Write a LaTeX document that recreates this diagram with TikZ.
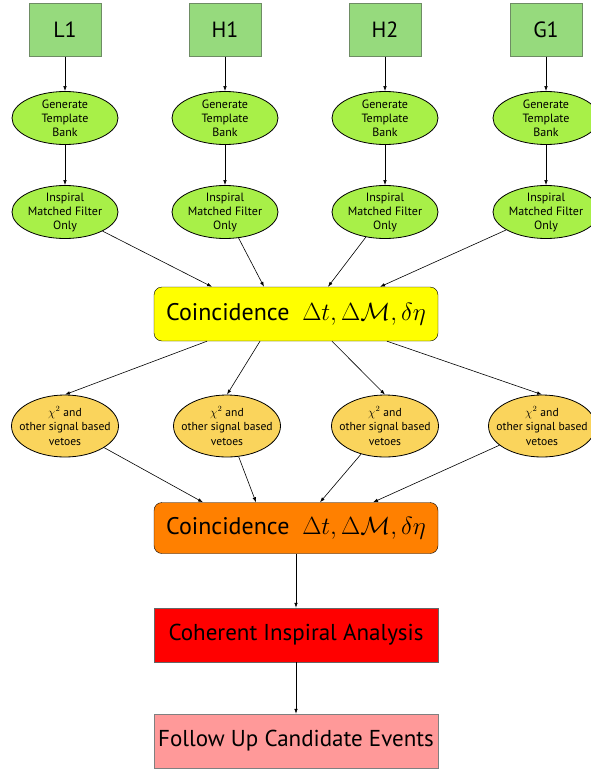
\documentclass[tikz,border=0pt]{standalone}
\usepackage{fontspec}
\setmainfont{PT Sans}
\usetikzlibrary{shapes.geometric,arrows.meta}
\definecolor{ifogreen}{RGB}{150,218,125}
\definecolor{ifoedge}{RGB}{110,140,100}
\definecolor{limegreen}{RGB}{168,240,72}
\definecolor{vetoyellow}{RGB}{250,212,92}
\definecolor{coincyellow}{RGB}{255,255,0}
\definecolor{coincorange}{RGB}{255,128,0}
\definecolor{cohred}{RGB}{255,0,0}
\definecolor{followpink}{RGB}{255,153,153}

\begin{document}
\begin{tikzpicture}[x=1pt,y=-1pt,
    ifo/.style={draw=ifoedge,fill=ifogreen,minimum width=72pt,minimum height=53pt,inner sep=0pt,font=\ifofontsize},
    stage/.style={ellipse,draw,line width=0.8pt,fill=limegreen,minimum width=106pt,minimum height=53pt,inner sep=-20pt,align=center,font=\ellipsefontsize},
    veto/.style={stage,fill=vetoyellow,minimum height=62pt,minimum width=107pt,font=\vetofontsize},
    wide/.style={draw,minimum width=284pt,minimum height=54pt,inner sep=0pt},
    flow/.style={-{Latex[length=5pt,width=3.5pt]},line width=0.6pt}]
    \pgfmathsetmacro{\colA}{65}
    \pgfmathsetmacro{\colB}{225}
    \pgfmathsetmacro{\colC}{385}
    \pgfmathsetmacro{\colD}{546}
    \pgfmathsetmacro{\midcol}{296}
    \providecommand{\ifofontsize}{\fontsize{22}{26}\selectfont}
    \providecommand{\ellipsefontsize}{\fontsize{12}{14}\selectfont}
    \providecommand{\vetofontsize}{\fontsize{11.6}{14.5}\selectfont}
    \providecommand{\coincfontsize}{\fontsize{24}{28}\selectfont}
    \providecommand{\boxfontsize}{\fontsize{23}{27}\selectfont}
    \useasboundingbox (0,0) rectangle (591,769);
    % detectors
    \node[ifo] (l1) at (\colA,30) {L1};
    \node[ifo] (h1) at (\colB,30) {H1};
    \node[ifo] (h2) at (\colC,30) {H2};
    \node[ifo] (g1) at (\colD,30) {G1};
    % template banks
    \node[stage] (bankl1) at (\colA,118) {Generate\\Template\\Bank};
    \node[stage] (bankh1) at (\colB,118) {Generate\\Template\\Bank};
    \node[stage] (bankh2) at (\colC,118) {Generate\\Template\\Bank};
    \node[stage] (bankg1) at (\colD,118) {Generate\\Template\\Bank};
    % matched filter
    \node[stage] (insl1) at (\colA,212) {Inspiral\\Matched Filter\\Only};
    \node[stage] (insh1) at (\colB,212) {Inspiral\\Matched Filter\\Only};
    \node[stage] (insh2) at (\colC,212) {Inspiral\\Matched Filter\\Only};
    \node[stage] (insg1) at (\colD,212) {Inspiral\\Matched Filter\\Only};
    % first coincidence
    \node[wide,fill=coincyellow,rounded corners=8pt,font=\coincfontsize] (coinc) at (\midcol,314)
        {Coincidence\ \ $\Delta t, \Delta\mathcal{M}, \delta\eta$};
    % vetoes
    \node[veto] (vetol1) at (\colA,426) {$\chi^2$ and\\other signal based\\vetoes};
    \node[veto] (vetoh1) at (227,426) {$\chi^2$ and\\other signal based\\vetoes};
    \node[veto] (vetoh2) at (\colC,426) {$\chi^2$ and\\other signal based\\vetoes};
    \node[veto] (vetog1) at (542,426) {$\chi^2$ and\\other signal based\\vetoes};
    % second coincidence and follow up
    \node[wide,fill=coincorange,rounded corners=8pt,minimum height=51pt,font=\coincfontsize] (coinctwo) at (\midcol,528)
        {Coincidence\ \ $\Delta t, \Delta\mathcal{M}, \delta\eta$};
    \node[wide,draw=black!60,fill=cohred,font=\boxfontsize] (coherent) at (\midcol,635) {Coherent Inspiral Analysis};
    \node[wide,draw=black!50,fill=followpink,font=\boxfontsize] (followup) at (\midcol,741) {Follow Up Candidate Events};
    % connectors
    \draw[flow] (l1) -- (bankl1);
    \draw[flow] (h1) -- (bankh1);
    \draw[flow] (h2) -- (bankh2);
    \draw[flow] (g1) -- (bankg1);
    \draw[flow] (bankl1) -- (insl1);
    \draw[flow] (bankh1) -- (insh1);
    \draw[flow] (bankh2) -- (insh2);
    \draw[flow] (bankg1) -- (insg1);
    \draw[flow] (insl1) -- ([xshift=-84pt]coinc.north);
    \draw[flow] (insh1) -- ([xshift=-32pt]coinc.north);
    \draw[flow] (insh2) -- ([xshift=32pt]coinc.north);
    \draw[flow] (insg1) -- ([xshift=84pt]coinc.north);
    \draw[flow] ([xshift=-89pt]coinc.south) -- (vetol1.north);
    \draw[flow] ([xshift=-36pt]coinc.south) -- (vetoh1.north);
    \draw[flow] ([xshift=36pt]coinc.south) -- (vetoh2.north);
    \draw[flow] ([xshift=91pt]coinc.south) -- (vetog1.north);
    \draw[flow] (vetol1) -- ([xshift=-93pt]coinctwo.north);
    \draw[flow] (vetoh1) -- ([xshift=-40pt]coinctwo.north);
    \draw[flow] (vetoh2) -- ([xshift=24pt]coinctwo.north);
    \draw[flow] (vetog1) -- ([xshift=77pt]coinctwo.north);
    \draw[flow] (coinctwo) -- (coherent);
    \draw[flow] (coherent) -- (followup);
\end{tikzpicture}
\end{document}
